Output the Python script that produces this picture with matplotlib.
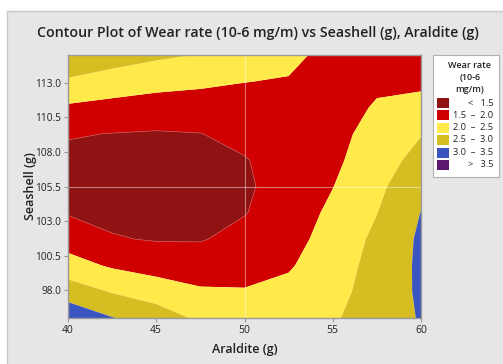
import matplotlib
matplotlib.use("Agg")
import matplotlib.pyplot as plt
import numpy as np
from matplotlib.patches import Rectangle

# ---------------- data ----------------
araldite = [40.0, 42.5, 45.0, 47.5, 50.0, 52.5, 55.0, 57.5, 60.0]
seashell = [96.0, 97.9, 99.8, 101.7, 103.6, 105.5, 107.4, 109.3, 111.2, 113.1, 115.0]
# wear rate, one list per araldite column (bottom -> top in seashell)
wear_a40 = [3.35, 2.77, 2.19, 1.79, 1.47, 1.35, 1.40, 1.53, 1.93, 2.42, 3.02]
wear_a425 = [3.02, 2.47, 1.94, 1.53, 1.40, 1.30, 1.33, 1.49, 1.85, 2.27, 2.75]
wear_a45 = [2.78, 2.25, 1.81, 1.47, 1.33, 1.27, 1.30, 1.46, 1.79, 2.16, 2.59]
wear_a475 = [2.40, 2.06, 1.75, 1.47, 1.36, 1.32, 1.36, 1.49, 1.78, 2.09, 2.48]
wear_a50 = [2.30, 2.03, 1.83, 1.64, 1.48, 1.43, 1.47, 1.64, 1.82, 2.01, 2.20]
wear_a525 = [2.35, 2.13, 1.95, 1.82, 1.74, 1.70, 1.72, 1.78, 1.85, 1.97, 2.12]
wear_a55 = [2.42, 2.33, 2.29, 2.20, 2.10, 1.99, 1.90, 1.83, 1.78, 1.78, 1.85]
wear_a575 = [2.85, 2.72, 2.65, 2.60, 2.49, 2.40, 2.28, 2.20, 2.05, 1.91, 1.82]
wear_a60 = [3.02, 3.07, 3.09, 3.08, 3.01, 2.83, 2.66, 2.48, 2.16, 1.90, 1.80]

levels = [0.0, 1.5, 2.0, 2.5, 3.0, 3.5, 6.0]
legend_labels = ["<   1.5", "1.5  \u2013  2.0", "2.0  \u2013  2.5",
                 "2.5  \u2013  3.0", "3.0  \u2013  3.5", ">   3.5"]
colors = ["#8f1313", "#d00000", "#ffea4a", "#d5bd22", "#3b55c0", "#5b176e"]
xticks = [40, 45, 50, 55, 60]
yticks = [98.0, 100.5, 103.0, 105.5, 108.0, 110.5, 113.0]

Z = np.array([wear_a40, wear_a425, wear_a45, wear_a475, wear_a50,
              wear_a525, wear_a55, wear_a575, wear_a60]).T
X, Y = np.meshgrid(araldite, seashell)

# ---------------- figure ----------------
W, H = 503, 364
fig = plt.figure(figsize=(W / 100, H / 100), dpi=100)
fig.patch.set_facecolor("white")
font = ["Open Sans", "DejaVu Sans"]

bg = Rectangle((7 / W, -0.01), 1.0, 1 - 11 / H + 0.01, transform=fig.transFigure,
               facecolor="#e6e6e6", edgecolor="#c8c8c8", linewidth=1.0, zorder=-5)
fig.add_artist(bg)

ax = fig.add_axes([68 / W, 1 - 318 / H, (421 - 68) / W, (318 - 55) / H])
ax.set_zorder(2)
ax.contourf(X, Y, Z, levels=levels, colors=colors, antialiased=True)
ax.contour(X, Y, Z, levels=[1.5], colors=["#c85050"], linewidths=0.5)
ax.axvline(50, color="white", alpha=0.45, lw=0.8)
ax.axhline(105.5, color="white", alpha=0.45, lw=0.8)

ax.set_xlim(40, 60)
ax.set_ylim(96.0, 115.0)
ax.set_xticks(xticks)
ax.set_xticklabels([str(v) for v in xticks], family=font, fontsize=7.5, color="#222222")
ax.set_yticks(yticks)
ax.set_yticklabels([f"{v:.1f}" for v in yticks], family=font, fontsize=7.3, color="#222222")
ax.tick_params(length=3, width=0.8, color="#999999", pad=2)
for s in ax.spines.values():
    s.set_color("#9a9a9a")
    s.set_linewidth(1.0)

ax.set_xlabel("Araldite (g)", family=font, fontsize=9, fontweight="semibold",
              color="#222222")
ax.set_ylabel("Seashell (g)", family=font, fontsize=9, fontweight="semibold",
              color="#222222")
ax.xaxis.set_label_coords(0.5, (318 - 349) / 263)
ax.yaxis.set_label_coords((30 - 68) / 353, 0.5)
ax.xaxis.label.set_va("center")
ax.yaxis.label.set_va("center")

fig.text(258 / W, 1 - 33 / H, "Contour Plot of Wear rate (10-6 mg/m) vs Seashell (g), Araldite (g)",
         family=font, fontsize=10.2, fontweight="semibold", color="#222222",
         ha="center", va="center")

# ---------------- legend ----------------
lg = Rectangle((433 / W, 1 - 177 / H), 66 / W, 122 / H, transform=fig.transFigure,
               facecolor="white", edgecolor="#b0b0b0", linewidth=0.8, zorder=1)
fig.add_artist(lg)
for i, t in enumerate(["Wear rate", "(10-6", "mg/m)"]):
    fig.text(470 / W, 1 - (65 + 12 * i) / H, t, family=font, fontsize=6.5,
             fontweight="semibold", color="#222222", ha="center", va="center", zorder=3)
row_y = [103, 115, 127.5, 140, 152.5, 165]
for c, lab, yy in zip(colors, legend_labels, row_y):
    fig.add_artist(Rectangle((437 / W, 1 - (yy + 5) / H), 12 / W, 10 / H,
                             transform=fig.transFigure, facecolor=c,
                             edgecolor="none", zorder=3))
    fig.text(493 / W, 1 - yy / H, lab, family=font, fontsize=6.7, color="#222222",
             ha="right", va="center", zorder=3)

fig.savefig("out.png", dpi=100, facecolor=fig.get_facecolor())
